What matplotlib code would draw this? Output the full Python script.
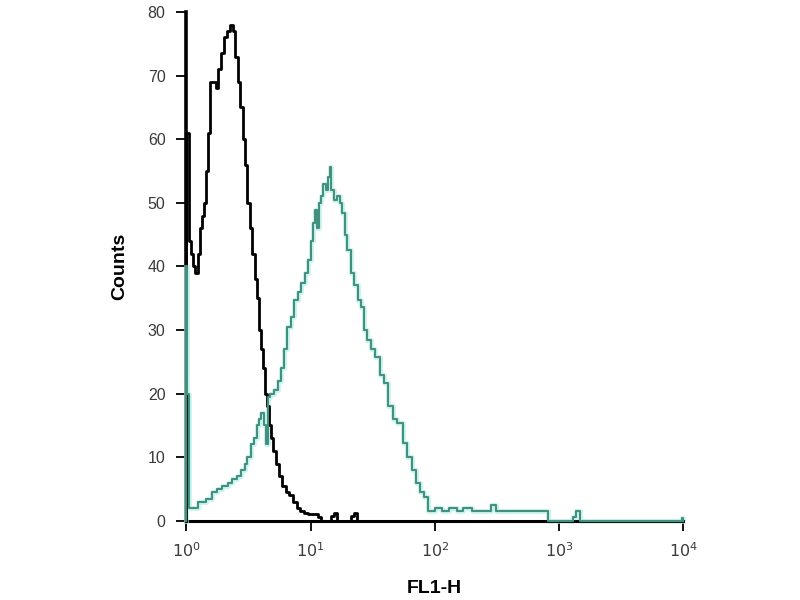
import matplotlib
matplotlib.use("Agg")
import matplotlib.pyplot as plt
from matplotlib.ticker import FixedLocator, NullLocator

plt.rcParams['font.family'] = ['Liberation Sans', 'DejaVu Sans']

# Control (black) histogram: FL1-H channel positions and counts
black_x = [1.0, 1.0, 1.04, 1.08, 1.13, 1.18, 1.23, 1.28, 1.33, 1.38, 1.44, 1.48,
           1.55, 1.65, 1.72, 1.80, 1.90, 2.00, 2.12, 2.25, 2.38, 2.48, 2.58, 2.70,
           2.85, 2.98, 3.10, 3.25, 3.40, 3.55, 3.70, 3.85, 4.00, 4.15, 4.30, 4.45,
           4.60, 4.80, 5.00, 5.25, 5.55, 5.90, 6.30, 6.70, 7.20, 7.70, 8.20, 8.80,
           9.60, 10.6, 11.5, 12.2, 14.6, 15.4, 16.2, 21.3, 22.3, 23.5, 100.0, 10000.0]
black_y = [0, 61, 44, 42, 40, 39, 42, 46, 48, 50, 55, 61,
           69, 69, 68, 71, 73.5, 76, 77, 78, 77, 73, 69, 65,
           60, 56, 50, 46, 42, 38, 35, 30, 27, 24, 20, 18,
           15, 13, 11, 9, 7, 5.5, 4.5, 4, 3, 2, 1.5, 1.3,
           1.0, 1.0, 0.6, 0, 0.8, 1.3, 0, 0.8, 1.3, 0, 0, 0]

# Stained (teal) histogram
teal_x = [1.0, 1.0, 1.02, 1.05, 1.25, 1.45, 1.62, 1.75, 1.95, 2.15, 2.35, 2.55,
          2.75, 2.95, 3.10, 3.30, 3.50, 3.70, 3.85, 4.00, 4.20, 4.40, 4.55,
          4.75, 5.10, 5.50, 5.80, 6.10, 6.50, 6.90, 7.40, 7.90, 8.40, 9.00,
          9.50, 10.0, 10.4, 10.9, 11.3, 11.7, 12.1, 12.6, 13.2, 13.8, 14.2,
          14.7, 15.3, 16.4, 17.2, 18.0, 18.8, 19.8, 21.0, 22.5, 24.0, 25.5,
          27.0, 28.5, 30.5, 33.0, 36.0, 39.0, 42.0, 46.0, 50.0, 55.0, 60.0,
          65.0, 70.0, 76.0, 82.0, 88.0, 100.0, 115.0, 130.0, 150.0, 170.0,
          200.0, 260.0, 285.0, 310.0, 820.0, 1300.0, 1360.0, 1480.0, 9700.0,
          10000.0]
teal_y = [0, 40, 20, 2, 3, 3.5, 4.5, 5, 5.5, 6, 6.5, 7,
          8, 9, 10, 12, 13, 15, 16, 17, 15, 12, 19.5,
          20, 20.6, 22, 24, 27, 30.5, 32, 34.7, 36, 37.4, 39,
          41, 44, 46.8, 48.9, 46, 50, 51, 53, 52, 54, 55.7,
          52, 50.5, 51, 50, 48.4, 45, 42.6, 39, 37, 34.7, 33.6,
          30, 28.5, 27, 25.8, 23, 21.7, 18, 16, 15.4, 12.3, 10,
          8, 6, 4.5, 3.8, 1.5, 2, 1.5, 2, 1.5, 2,
          1.5, 1.5, 2.5, 1.5, 0, 0.6, 1.5, 0, 0.5,
          0]

x_ticks = [1, 10, 100, 1000, 10000]
x_tick_labels = [r'$10^{0}$', r'$10^{1}$', r'$10^{2}$', r'$10^{3}$', r'$10^{4}$']
y_ticks = [0, 10, 20, 30, 40, 50, 60, 70, 80]

fig = plt.figure(figsize=(8, 6), dpi=100)
ax = fig.add_axes([0.233, 0.132, 0.621, 0.848])

ax.step(teal_x, teal_y, where='post', color='#b5efe9', lw=3.5, alpha=0.7,
        zorder=3, clip_on=False)
ax.step(teal_x, teal_y, where='post', color='#44907f', lw=1.5, zorder=3.2,
        clip_on=False)
ax.step(black_x, black_y, where='post', color='black', lw=2.0, zorder=3.1,
        clip_on=False)

ax.set_xscale('log')
ax.set_xlim(1, 10000)
ax.set_ylim(0, 80)

ax.xaxis.set_major_locator(FixedLocator(x_ticks))
ax.xaxis.set_minor_locator(NullLocator())
ax.set_xticklabels(x_tick_labels)
ax.set_yticks(y_ticks)

for s in ['top', 'right']:
    ax.spines[s].set_visible(False)
ax.spines['left'].set_linewidth(2.6)
ax.spines['bottom'].set_linewidth(2.2)

ax.tick_params(axis='both', direction='out', length=7, width=1.3,
               colors='black', labelcolor='#3a3a3a', labelsize=11.5, pad=8)

ax.set_ylabel('Counts', fontsize=14, fontweight='bold', labelpad=14)
ax.set_xlabel('FL1-H', fontsize=14, fontweight='bold', labelpad=14)

fig.savefig('out.png', dpi=100)
